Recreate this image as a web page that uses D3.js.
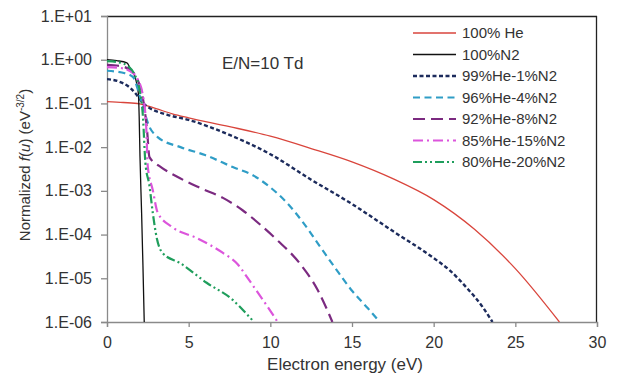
<!DOCTYPE html>
<html>
<head>
<meta charset="utf-8">
<script src="https://cdn.jsdelivr.net/npm/d3@7"></script>
<style>
  body { margin: 0; background: #fff; }
  svg { font-family: "Liberation Sans", Arial, sans-serif; }
</style>
</head>
<body>
<div id="chart"></div>
<script>
const he100 = [[0,0.11],[1,0.105],[2,0.098],[3,0.076],[4,0.058],[5,0.047],[7.5,0.0295],[10,0.0178],[12.5,0.0093],[15,0.0046],[17.5,0.0019],[20,6.3e-4],[22.5,1.32e-4],[25,1.66e-5],[27.7,1e-6]];
const n2100 = [[0,1.0],[0.6,0.95],[1.22,0.85],[1.41,0.65],[1.71,0.41],[1.92,0.17],[1.97,0.05],[2.02,6e-3],[2.12,3e-4],[2.2,2e-5],[2.28,1e-6]];
const he99 = [[0,0.36],[0.7,0.32],[1.4,0.23],[1.8,0.16],[2.2,0.102],[2.6,0.079],[3.7,0.055],[5,0.042],[7.5,0.019],[10,0.0069],[12.5,0.0018],[15,5e-4],[17.5,1.2e-4],[20,2.9e-5],[21,1.5e-5],[22,6.2e-6],[23,2.2e-6],[23.6,1e-6]];
const he96 = [[0,0.56],[1.1,0.49],[1.6,0.4],[2.0,0.15],[2.6,0.029],[3.1,0.017],[4.5,0.01],[6,0.0066],[7.7,0.0035],[9,0.0022],[10,0.0012],[11,5.4e-4],[12,1.9e-4],[13,5.6e-5],[14,1.66e-5],[15,5.2e-6],[16,2e-6],[16.7,1e-6]];
const he92 = [[0,0.76],[0.8,0.72],[1.4,0.58],[1.8,0.4],[2.25,0.1],[2.45,0.025],[2.6,0.0059],[3.3,0.0035],[4.3,0.0021],[5.7,0.00117],[7.1,6.9e-4],[8.3,3.6e-4],[9.4,1.66e-4],[10.4,7.6e-5],[11.8,2.2e-5],[12.9,5.4e-6],[13.8,1e-6]];
const he85 = [[0,0.68],[0.8,0.65],[1.4,0.55],[1.8,0.4],[2.2,0.15],[2.4,0.03],[2.5,0.0035],[2.8,0.00105],[3.1,3.2e-4],[4.0,1.48e-4],[5.5,8.3e-5],[7.1,3.8e-5],[8,2.1e-5],[8.5,1.17e-5],[9,6.3e-6],[9.5,3.4e-6],[10,1.8e-6],[10.45,1e-6]];
const he80 = [[0,0.93],[0.8,0.86],[1.3,0.7],[1.7,0.45],[2.0,0.2],[2.2,0.05],[2.35,0.0044],[2.6,0.0013],[2.8,3.2e-4],[3.06,7.9e-5],[3.4,3.8e-5],[4.5,2.2e-5],[6.1,7.9e-6],[7.7,3.2e-6],[8.5,1.6e-6],[9.0,1e-6]];

const seriesNames = ["100% He","100%N2","99%He-1%N2","96%He-4%N2","92%He-8%N2","85%He-15%N2","80%He-20%N2"];
const seriesData = [he100, n2100, he99, he96, he92, he85, he80];
const xTicks = [0, 5, 10, 15, 20, 25, 30];
const yTicks = [1e-6, 1e-5, 1e-4, 1e-3, 1e-2, 1e-1, 1, 10];

// styles per series
const styles = [
  { color: "#d9453c", width: 1.3, dash: null },
  { color: "#111111", width: 1.3, dash: null },
  { color: "#1c2b5c", width: 2.4, dash: "4,2.5" },
  { color: "#2f9dc6", width: 2.2, dash: "7,4.5" },
  { color: "#7b2a80", width: 2.2, dash: "12,6" },
  { color: "#dc55dc", width: 2.2, dash: "10,4,2,4" },
  { color: "#1f9e5c", width: 2.2, dash: "9,3,2,3,2,3" }
];

const W = 617, H = 374;
const margin = { top: 16, right: 20, bottom: 52, left: 107 };
const width = W - margin.left - margin.right;   // 490
const height = H - margin.top - margin.bottom;  // 306

const svg = d3.select("#chart").append("svg")
  .attr("width", W)
  .attr("height", H);

const g = svg.append("g")
  .attr("transform", `translate(${margin.left},${margin.top})`);

const x = d3.scaleLinear().domain([0, 30]).range([0, width]);
const y = d3.scaleLog().domain([1e-6, 10]).range([height, 0]);

// frame: top and right black
g.append("line").attr("x1", 0).attr("x2", width).attr("y1", 0.5).attr("y2", 0.5)
  .attr("stroke", "#222").attr("stroke-width", 1.3);
g.append("line").attr("x1", width - 0.5).attr("x2", width - 0.5).attr("y1", 0).attr("y2", height)
  .attr("stroke", "#222").attr("stroke-width", 1.3);

const fmtE = d => {
  const e = Math.round(Math.log10(d));
  return "1.E" + (e >= 0 ? "+" : "-") + String(Math.abs(e)).padStart(2, "0");
};

// y axis
g.append("g")
  .call(d3.axisLeft(y).tickValues(yTicks).tickFormat(fmtE).tickSize(6).tickPadding(9))
  .call(a => a.selectAll(".domain, .tick line").attr("stroke", "#8a8a8a").attr("stroke-width", 1.3))
  .call(a => a.selectAll(".tick text")
    .style("font-size", "16px").attr("fill", "#333").attr("font-family", "Liberation Sans, Arial, sans-serif"));

// x axis
g.append("g")
  .attr("transform", `translate(0,${height})`)
  .call(d3.axisBottom(x).tickValues(xTicks).tickFormat(d3.format("d")).tickSize(5).tickPadding(10))
  .call(a => a.selectAll(".domain, .tick line").attr("stroke", "#8a8a8a").attr("stroke-width", 1.3))
  .call(a => a.selectAll(".tick text")
    .style("font-size", "16px").attr("fill", "#333").attr("font-family", "Liberation Sans, Arial, sans-serif"));

// axis labels
svg.append("text")
  .attr("x", 345)
  .attr("y", 370)
  .attr("text-anchor", "middle")
  .style("font-size", "17px")
  .attr("fill", "#333")
  .text("Electron energy (eV)");

const yl = svg.append("text")
  .attr("transform", "translate(30,165) rotate(-90)")
  .attr("text-anchor", "middle")
  .style("font-size", "15px")
  .attr("fill", "#333");
yl.append("tspan").text("Normalized ");
yl.append("tspan").attr("font-style", "italic").text("f");
yl.append("tspan").text("(");
yl.append("tspan").attr("font-style", "italic").text("u");
yl.append("tspan").text(") (eV");
yl.append("tspan").attr("dy", "-6").style("font-size", "10px").text("-3/2");
yl.append("tspan").attr("dy", "6").text(")");

// annotation
g.append("text")
  .attr("x", 115)
  .attr("y", 53)
  .style("font-size", "17px")
  .attr("fill", "#333")
  .text("E/N=10 Td");

// curves
const line = d3.line()
  .x(d => x(d[0]))
  .y(d => y(d[1]))
  .curve(d3.curveMonotoneX);

svg.append("defs").append("clipPath").attr("id", "plotclip")
  .append("rect").attr("x", 0).attr("y", 0).attr("width", width).attr("height", height);

const plot = g.append("g").attr("clip-path", "url(#plotclip)");

seriesData.forEach((data, i) => {
  const s = styles[i];
  plot.append("path")
    .datum(data)
    .attr("fill", "none")
    .attr("stroke", s.color)
    .attr("stroke-width", s.width)
    .attr("stroke-dasharray", s.dash)
    .attr("d", line);
});

// legend
const legend = svg.append("g").attr("transform", "translate(413,33)");
seriesNames.forEach((name, i) => {
  const s = styles[i];
  const row = legend.append("g").attr("transform", `translate(0,${i * 21.5})`);
  row.append("line")
    .attr("x1", 0).attr("x2", 43).attr("y1", 0).attr("y2", 0)
    .attr("stroke", s.color)
    .attr("stroke-width", s.width)
    .attr("stroke-dasharray", s.dash);
  row.append("text")
    .attr("x", 49)
    .attr("y", 0)
    .attr("dy", "0.35em")
    .style("font-size", "15px")
    .attr("fill", "#333")
    .text(name);
});
</script>
</body>
</html>
